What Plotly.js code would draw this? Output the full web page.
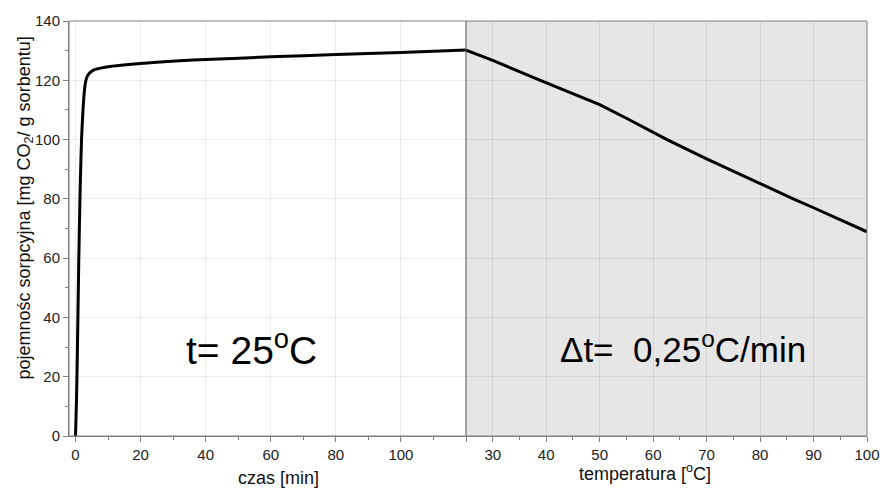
<!DOCTYPE html>
<html>
<head>
<meta charset="utf-8">
<script src="https://cdn.plot.ly/plotly-3.0.1.min.js"></script>
<style>html,body{margin:0;padding:0;background:#fff;}#chart{width:880px;height:488px;}</style>
</head>
<body>
<div id="chart"></div>
<script>
// Isothermal sorption (time, min)
const timeMin = [0, 0.3, 0.6, 1.0, 1.4, 1.85, 2.3, 2.7, 3.1, 3.6, 4.2, 4.8, 5.5, 6.5, 7.7, 10, 14, 20, 32, 40, 60, 80, 100, 120];
const sorpTime = [0, 12, 30, 59, 82, 100, 110, 116, 119.5, 121.3, 122.3, 122.9, 123.4, 123.8, 124.1, 124.6, 125.1, 125.7, 126.6, 127.0, 127.9, 128.7, 129.4, 130.2];
// Temperature-programmed desorption (temperature, °C)
const tempC = [25, 30, 38.9, 45, 50, 55, 62.6, 70, 75, 80, 86.2, 90, 95, 100];
const sorpTemp = [130.2, 126.7, 120.0, 115.6, 111.8, 107.2, 100.0, 93.5, 89.3, 85.1, 80.0, 77.0, 72.9, 68.9];

const xTicks1 = [0, 20, 40, 60, 80, 100];
const xMinor1 = [10, 30, 50, 70, 90, 110];
const xTicks2 = [25, 30, 40, 50, 60, 70, 80, 90, 100];
const xTickText2 = ['', '30', '40', '50', '60', '70', '80', '90', '100'];
const xMinor2 = [35, 45, 55, 65, 75, 85, 95];
const yTicks = [0, 20, 40, 60, 80, 100, 120, 140];
const yMinor = [10, 30, 50, 70, 90, 110, 130];

const split = 0.4975;
const font = 'Liberation Sans, Arial, sans-serif';
const axisCol = '#808080';
const gridCol = 'rgba(0,0,0,0.07)';

const traces = [
  {x: timeMin, y: sorpTime, xaxis: 'x', yaxis: 'y', type: 'scatter', mode: 'lines',
   line: {color: '#000', width: 3, shape: 'spline', smoothing: 0.6}, hoverinfo: 'skip'},
  {x: tempC, y: sorpTemp, xaxis: 'x2', yaxis: 'y', type: 'scatter', mode: 'lines',
   line: {color: '#000', width: 3, shape: 'linear'}, hoverinfo: 'skip'}
];

const commonX = {
  showline: true, linecolor: axisCol, linewidth: 1,
  ticks: 'outside', ticklen: 5, tickcolor: axisCol, tickwidth: 1,
  showgrid: true, gridcolor: gridCol, gridwidth: 1, zeroline: false,
  tickfont: {family: font, size: 15, color: '#222'}
};

const layout = {
  width: 880, height: 488,
  margin: {l: 69, r: 13, t: 21, b: 52},
  paper_bgcolor: '#fff', plot_bgcolor: '#fff',
  showlegend: false,
  xaxis: Object.assign({}, commonX, {
    domain: [0, split], range: [-2, 120], anchor: 'y',
    tickmode: 'array', tickvals: xTicks1,
    minor: {tickmode: 'array', tickvals: xMinor1, ticks: 'outside', ticklen: 3, tickcolor: axisCol, showgrid: false}
  }),
  xaxis2: Object.assign({}, commonX, {
    domain: [split, 1], range: [25, 100], anchor: 'y',
    tickmode: 'array', tickvals: xTicks2, ticktext: xTickText2,
    minor: {tickmode: 'array', tickvals: xMinor2, ticks: 'outside', ticklen: 3, tickcolor: axisCol, showgrid: false}
  }),
  yaxis: {
    range: [0, 140], anchor: 'x',
    showline: true, linecolor: axisCol, linewidth: 1,
    ticks: 'outside', ticklen: 5, tickcolor: axisCol, tickwidth: 1,
    tickmode: 'array', tickvals: yTicks,
    minor: {tickmode: 'array', tickvals: yMinor, ticks: 'outside', ticklen: 3, tickcolor: axisCol, showgrid: false},
    showgrid: true, gridcolor: gridCol, zeroline: false,
    tickfont: {family: font, size: 15, color: '#222'}
  },
  shapes: [
    {type: 'rect', xref: 'paper', yref: 'paper', x0: split, x1: 1, y0: 0, y1: 1,
     fillcolor: '#e6e6e6', line: {width: 0}, layer: 'below'},
    {type: 'line', xref: 'paper', yref: 'paper', x0: split, x1: split, y0: 0, y1: 1,
     line: {color: '#555', width: 1}, layer: 'above'},
    {type: 'rect', xref: 'paper', yref: 'paper', x0: 0, x1: 1, y0: 0, y1: 1,
     line: {color: axisCol, width: 1}, fillcolor: 'rgba(0,0,0,0)', layer: 'above'}
  ],
  annotations: [
    {xref: 'x', yref: 'y', x: 54, y: 30, text: 't= 25<sup>o</sup>C', showarrow: false,
     font: {family: font, size: 39, color: '#000'}, xanchor: 'center', yanchor: 'middle'},
    {xref: 'x2', yref: 'y', x: 65.6, y: 30, text: 'Δt=  0,25<sup>o</sup>C/min', showarrow: false,
     font: {family: font, size: 35, color: '#000'}, xanchor: 'center', yanchor: 'middle'},
    {xref: 'paper', yref: 'paper', x: 0.262, y: 0, yshift: -42, text: 'czas [min]', showarrow: false,
     font: {family: font, size: 18, color: '#111'}, xanchor: 'center', yanchor: 'middle'},
    {xref: 'paper', yref: 'paper', x: 0.722, y: 0, yshift: -36, text: 'temperatura [<sup>o</sup>C]', showarrow: false,
     font: {family: font, size: 18, color: '#111'}, xanchor: 'center', yanchor: 'middle'},
    {xref: 'paper', yref: 'paper', x: 0, xshift: -44, y: 0.5, yshift: 20, textangle: -90,
     text: 'pojemnośc sorpcyjna [mg CO<sub>2</sub>/ g sorbentu]', showarrow: false,
     font: {family: font, size: 18, color: '#111'}, xanchor: 'center', yanchor: 'middle'}
  ]
};

Plotly.newPlot('chart', traces, layout, {staticPlot: true, displayModeBar: false});
</script>
</body>
</html>
